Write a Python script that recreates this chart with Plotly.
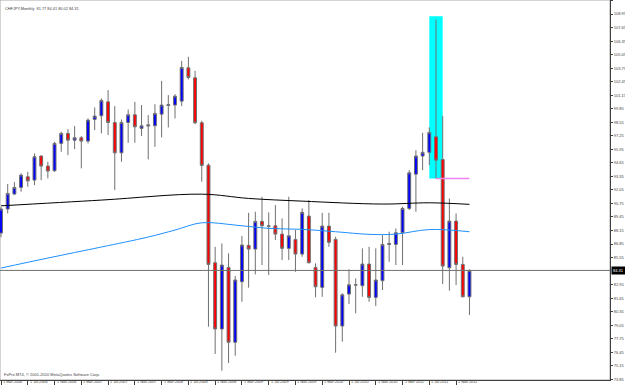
import plotly.graph_objects as go

# ---------------- data ----------------
months = [
    "2006-03", "2006-04", "2006-05", "2006-06", "2006-07", "2006-08", "2006-09", "2006-10", "2006-11", "2006-12",
    "2007-01", "2007-02", "2007-03", "2007-04", "2007-05", "2007-06", "2007-07", "2007-08", "2007-09", "2007-10", "2007-11", "2007-12",
    "2008-01", "2008-02", "2008-03", "2008-04", "2008-05", "2008-06", "2008-07", "2008-08", "2008-09", "2008-10", "2008-11", "2008-12",
    "2009-01", "2009-02", "2009-03", "2009-04", "2009-05", "2009-06", "2009-07", "2009-08", "2009-09", "2009-10", "2009-11", "2009-12",
    "2010-01", "2010-02", "2010-03", "2010-04", "2010-05", "2010-06", "2010-07", "2010-08", "2010-09", "2010-10", "2010-11", "2010-12",
    "2011-01", "2011-02", "2011-03", "2011-04", "2011-05", "2011-06", "2011-07", "2011-08", "2011-09", "2011-10", "2011-11", "2011-12",
    "2012-01",
]
opens = [
    87.90, 90.21, 91.65, 92.29, 93.31, 92.99, 95.30, 94.34, 93.89, 96.52,
    97.48, 96.83, 97.06, 96.74, 98.82, 99.17, 100.51, 98.53, 95.61, 98.53, 99.27, 97.96,
    98.30, 98.21, 99.33, 100.17, 100.20, 100.58, 103.78, 102.82, 98.50, 94.43, 85.05, 78.68,
    84.60, 77.40, 83.22, 86.72, 86.36, 89.02, 88.60, 88.60, 87.80, 86.43, 87.29, 85.88,
    89.53, 84.60, 82.68, 88.57, 87.29, 78.97, 82.04, 82.90, 82.84, 84.92, 81.72, 83.32,
    86.81, 86.81, 87.93, 90.27, 93.56, 95.30, 95.66, 97.15, 94.97, 84.57, 89.05, 84.89,
    81.77,
]
highs = [
    90.40, 92.61, 92.80, 93.64, 93.79, 95.56, 95.39, 94.75, 96.67, 97.63,
    97.89, 98.18, 97.22, 98.92, 99.98, 100.84, 101.64, 100.10, 98.82, 99.78, 100.51, 100.20,
    99.24, 100.29, 102.53, 101.16, 101.25, 104.45, 104.84, 103.49, 98.69, 94.60, 86.58, 86.91,
    85.95, 83.77, 87.61, 89.85, 89.95, 91.39, 89.89, 90.59, 89.31, 91.39, 88.19, 90.27,
    91.07, 84.99, 89.85, 89.85, 87.55, 82.11, 84.41, 83.55, 86.43, 86.58, 86.43, 87.71,
    88.03, 88.35, 90.43, 93.95, 95.87, 97.54, 98.06, 108.43, 99.14, 91.23, 89.79, 85.62,
    84.41,
]
lows = [
    87.50, 89.79, 91.55, 91.87, 92.35, 92.51, 92.99, 93.15, 93.79, 95.71,
    95.39, 95.97, 94.12, 96.52, 97.80, 97.48, 97.32, 92.03, 94.75, 96.58, 96.58, 97.22,
    94.98, 96.19, 97.09, 98.05, 98.92, 100.10, 102.66, 98.37, 92.83, 78.90, 76.28, 74.67,
    75.41, 76.11, 81.30, 82.65, 83.93, 84.83, 83.87, 87.23, 85.31, 85.31, 84.18, 85.62,
    84.99, 81.73, 81.78, 86.58, 76.40, 77.46, 81.08, 80.19, 81.78, 81.30, 80.89, 82.43,
    85.14, 84.83, 84.83, 90.11, 89.95, 93.95, 94.43, 93.15, 83.00, 82.36, 82.90, 81.73,
    80.02,
]
closes = [
    90.21, 91.71, 92.29, 93.47, 92.92, 95.23, 94.34, 93.86, 96.52, 97.48,
    96.83, 97.06, 96.74, 98.76, 99.14, 100.65, 98.53, 95.61, 98.53, 99.27, 98.11, 98.21,
    98.21, 99.40, 100.20, 100.23, 101.06, 103.82, 102.85, 98.50, 94.40, 84.89, 78.68, 84.83,
    77.40, 83.39, 86.75, 86.36, 89.02, 88.60, 88.55, 87.80, 86.43, 87.64, 85.88, 89.89,
    85.05, 82.74, 88.57, 87.01, 78.97, 81.97, 82.93, 82.93, 84.92, 81.72, 83.39, 86.81,
    86.90, 87.93, 90.27, 93.69, 95.30, 95.66, 97.57, 94.91, 84.73, 89.05, 84.89, 81.78,
    84.31,
]

# moving averages (read at several bars)
ma_slow_months = ["2006-03", "2007-06", "2008-09", "2009-04", "2009-12", "2010-12", "2011-07", "2012-01"]
ma_slow_values = [90.52, 91.07, 91.64, 91.23, 90.97, 90.69, 90.81, 90.66]
ma_fast_months = ["2006-03", "2006-10", "2007-06", "2008-01", "2008-05", "2008-09", "2009-02", "2009-07",
                  "2009-12", "2010-05", "2010-10", "2011-02", "2011-07", "2012-01"]
ma_fast_values = [84.54, 85.50, 86.56, 87.52, 88.19, 88.89, 88.67, 88.35,
                  88.26, 88.03, 87.78, 87.80, 88.24, 88.03]

# drawn objects
rect_start, rect_end = "2011-07", "2011-09"
rect_low, rect_high = 93.15, 108.75
level_start, level_end = "2011-08", "2012-01"
level_price = 93.15

tick_months = ["2006-03", "2006-07", "2006-11", "2007-03", "2007-07", "2007-11", "2008-03", "2008-07", "2008-11",
               "2009-03", "2009-07", "2009-11", "2010-03", "2010-07", "2010-11", "2011-03", "2011-07", "2011-11"]
tick_labels = ["1 Mar 2006", "1 Jul 2006", "1 Nov 2006", "1 Mar 2007", "1 Jul 2007", "1 Nov 2007",
               "1 Mar 2008", "1 Jul 2008", "1 Nov 2008", "1 Mar 2009", "1 Jul 2009", "1 Nov 2009",
               "1 Mar 2010", "1 Jul 2010", "1 Nov 2010", "1 Mar 2011", "1 Jul 2011", "1 Nov 2011"]
price_ticks = [110.25, 108.95, 107.65, 106.35, 105.05, 103.75, 102.45, 101.15, 99.85, 98.55,
               97.25, 95.95, 94.65, 93.35, 92.05, 90.75, 89.45, 88.15, 86.85, 85.55,
               82.95, 81.65, 80.35, 79.05, 77.75, 76.45, 75.15, 73.85]
price_labels = ["%.2f" % v for v in price_ticks]

# ---------------- figure ----------------
FONT = "Liberation Sans"
fig = go.Figure()

fig.add_trace(go.Candlestick(
    x=months, open=opens, high=highs, low=lows, close=closes,
    increasing=dict(fillcolor="#0000FF", line=dict(color="#707070", width=1)),
    decreasing=dict(fillcolor="#FF0000", line=dict(color="#707070", width=1)),
    whiskerwidth=0, hoverinfo="skip", showlegend=False,
))
fig.add_trace(go.Scatter(x=ma_fast_months, y=ma_fast_values, mode="lines", line=dict(color="#1E90FF", width=1),
                         line_shape="spline", hoverinfo="skip", showlegend=False))
fig.add_trace(go.Scatter(x=ma_slow_months, y=ma_slow_values, mode="lines", line=dict(color="#000000", width=1),
                         line_shape="spline", hoverinfo="skip", showlegend=False))
fig.add_trace(go.Scatter(x=[level_start, level_end], y=[level_price, level_price], mode="lines",
                         line=dict(color="#EE82EE", width=1.5), hoverinfo="skip", showlegend=False))

# cyan rectangle (behind candles)
fig.add_shape(type="rect", xref="x", yref="y", x0=rect_start, x1=rect_end, y0=rect_low, y1=rect_high,
              fillcolor="#00FFFF", line=dict(width=0), layer="below")
# frame
fig.add_shape(type="rect", xref="paper", yref="paper", x0=0, x1=1, y0=0, y1=1,
              line=dict(color="#a8a8a8", width=1), layer="below")
# current price line
fig.add_shape(type="line", xref="paper", yref="y", x0=0, x1=1, y0=closes[-1], y1=closes[-1],
              line=dict(color="#707070", width=1), layer="above")

fig.add_annotation(xref="paper", yref="paper", x=0, y=1, xanchor="left", yanchor="top", xshift=3, yshift=-4,
                   text="CHFJPY,Monthly  %.2f %.2f %.2f %.2f" % (opens[-1], highs[-1], lows[-1], closes[-1]),
                   showarrow=False, font=dict(family=FONT, size=3.9, color="#404040"))
fig.add_annotation(xref="paper", yref="paper", x=0, y=0, xanchor="left", yanchor="bottom", xshift=2, yshift=1,
                   text="FxPro MT4, © 2001-2010 MetaQuotes Software Corp.",
                   showarrow=False, font=dict(family=FONT, size=4.0, color="#404040"))
fig.add_annotation(xref="paper", yref="y", x=1, y=closes[-1], xanchor="left", yanchor="middle", xshift=1,
                   text="%.2f" % closes[-1], showarrow=False, bgcolor="#000000", borderpad=1,
                   font=dict(family=FONT, size=4.0, color="#FFFFFF"))

# time-axis labels, left-aligned next to their tick marks (MT4 style)
for m, lab in zip(tick_months, tick_labels):
    fig.add_annotation(xref="x", yref="paper", x=m, y=0, xanchor="left", yanchor="top",
                       xshift=1, yshift=1, text=lab, showarrow=False, borderpad=0,
                       font=dict(family=FONT, size=3.8, color="#404040"))

fig.update_layout(
    width=625, height=387,
    margin=dict(l=0, r=15, t=0, b=7, autoexpand=False),
    paper_bgcolor="#FFFFFF", plot_bgcolor="#FFFFFF",
    boxgap=0.38,
    font=dict(family=FONT, color="#404040"),
    showlegend=False,
    xaxis=dict(type="category", categoryorder="array", categoryarray=months,
               range=[-0.15, 91.0], rangeslider=dict(visible=False),
               tickmode="array", tickvals=tick_months, ticktext=tick_labels, showticklabels=False,
               ticks="outside", ticklen=4, tickcolor="#404040",
               showline=True, linecolor="#404040", linewidth=1, showgrid=False, zeroline=False,
               automargin=False, fixedrange=True),
    yaxis=dict(side="right", range=[73.78, 110.3],
               tickmode="array", tickvals=price_ticks, ticktext=price_labels,
               ticks="outside", ticklen=2, tickcolor="#404040", ticklabelstandoff=0,
               tickfont=dict(family=FONT, size=4.0, color="#404040"),
               showline=True, linecolor="#404040", linewidth=1, showgrid=False, zeroline=False,
               automargin=False, fixedrange=True),
)

fig.write_html("out.html")
